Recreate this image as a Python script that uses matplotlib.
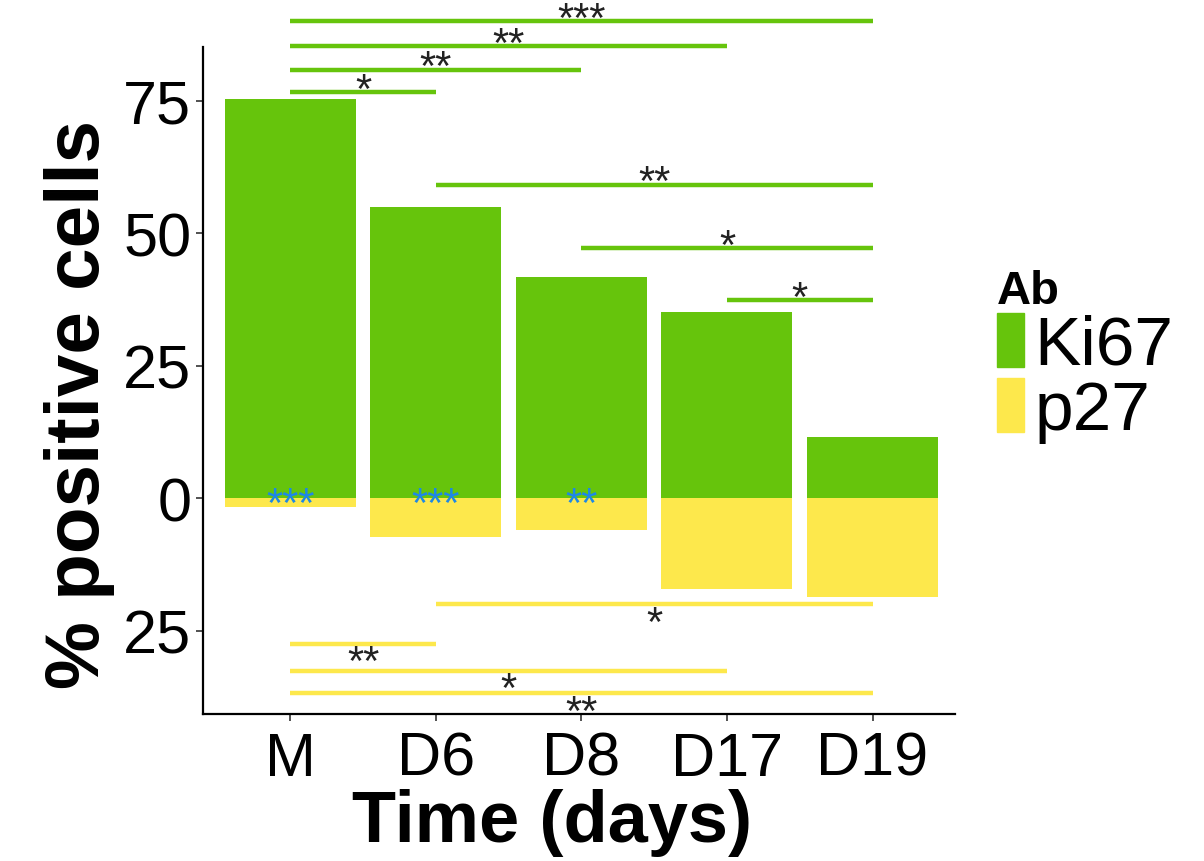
import numpy as np
import matplotlib
matplotlib.use("Agg")
import matplotlib.pyplot as plt
from matplotlib.patches import Patch

plt.rcParams["font.family"] = ["Liberation Sans", "DejaVu Sans"]

# data
times = ["M", "D6", "D8", "D17", "D19"]
ki67 = [75.4, 54.9, 41.7, 35.1, 11.6]
p27 = [1.6, 7.3, 6.0, 17.1, 18.6]
ki67_vs_p27_stars = ["***", "***", "**", "", ""]

# significance brackets: (from, to, height, label)
ki67_sig = [(0, 4, 90.0, "***"), (0, 3, 85.3, "**"), (0, 2, 80.9, "**"),
            (0, 1, 76.6, "*"), (1, 4, 59.2, "**"), (2, 4, 47.2, "*"),
            (3, 4, 37.4, "*")]
p27_sig = [(1, 4, -20.0, "*"), (0, 1, -27.4, "**"), (0, 3, -32.5, "*"),
           (0, 4, -36.8, "**")]

yticks = [75, 50, 25, 0, -25]

GREEN = "#66C40C"
YELLOW = "#FDE84C"
BLUE = "#1E88E5"

fig = plt.figure(figsize=(12.04, 8.62), dpi=100)
ax = fig.add_axes([0.1686, 0.1705, 0.625, 0.7735])

x = np.arange(len(times))
ax.bar(x, ki67, width=0.9, color=GREEN, zorder=2)
ax.bar(x, -np.array(p27), width=0.9, color=YELLOW, zorder=2)

for xi, s in zip(x, ki67_vs_p27_stars):
    if s:
        ax.annotate(s, (xi, 0), xytext=(0, -5), textcoords="offset points",
                    ha="center", va="center", fontsize=30, color=BLUE, zorder=3)

for a, b, h, s in ki67_sig:
    ax.plot([a, b], [h, h], color=GREEN, lw=3.2, clip_on=False, solid_capstyle="butt")
    ax.annotate(s, ((a + b) / 2, h), xytext=(0, 1), textcoords="offset points",
                ha="center", va="center", fontsize=30, color="#222222",
                annotation_clip=False)

for a, b, h, s in p27_sig:
    ax.plot([a, b], [h, h], color=YELLOW, lw=3.2, clip_on=False, solid_capstyle="butt")
    ax.annotate(s, ((a + b) / 2, h), xytext=(0, -14), textcoords="offset points",
                ha="center", va="center", fontsize=30, color="#222222",
                annotation_clip=False)

ax.set_xlim(-0.6, 4.57)
ax.set_ylim(-40.7, 85.1)
ax.set_xticks(x)
ax.set_xticklabels(times)
ax.set_yticks(yticks)
ax.set_yticklabels([str(abs(v)) for v in yticks])
ax.tick_params(labelsize=44, length=5, width=1.2, colors="#333333", labelcolor="black")
ax.tick_params(axis="x", pad=7)

for side in ["top", "right"]:
    ax.spines[side].set_visible(False)
for side in ["left", "bottom"]:
    ax.spines[side].set_linewidth(1.6)

ax.set_xlabel("Time (days)", fontsize=52, fontweight="bold", labelpad=0)
ax.set_ylabel("% positive cells", fontsize=55, fontweight="bold", labelpad=6)
ax.xaxis.label.set_x(0.464)
ax.yaxis.label.set_y(0.465)

handles = [Patch(color=GREEN, label="Ki67"), Patch(color=YELLOW, label="p27")]
leg = ax.legend(handles=handles, title="Ab", loc="center left",
                bbox_to_anchor=(1.0545, 0.537), frameon=False, fontsize=50,
                handlelength=0.4, handleheight=0.82, labelspacing=0.0,
                handletextpad=0.15, borderaxespad=0, borderpad=0)
leg.get_title().set_fontweight("bold")
leg.get_title().set_fontsize(34)
leg._legend_box.align = "left"

fig.savefig("out.png", dpi=100)
